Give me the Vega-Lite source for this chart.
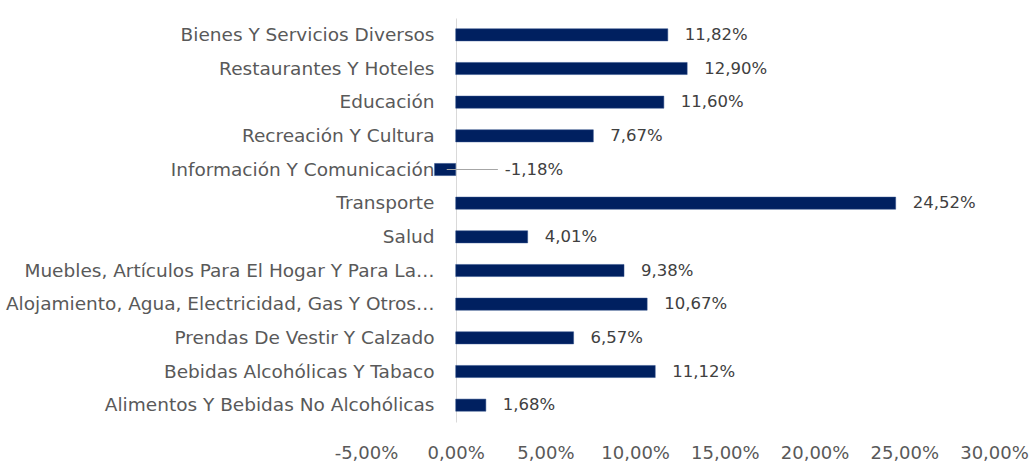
{
  "$schema": "https://vega.github.io/schema/vega-lite/v6.json",
  "width": 628,
  "height": 404,
  "autosize": "none",
  "padding": {"left": 366, "top": 18, "right": 38, "bottom": 51},
  "background": "white",
  "config": {
    "locale": {"number": {"decimal": ",", "thousands": ".", "grouping": [3], "currency": ["", "€"], "minus": "-"}},
    "view": {"stroke": null},
    "font": "DejaVu Sans"
  },
  "data": {"values": [
    {"cat": "Bienes Y Servicios Diversos", "v": 0.1182},
    {"cat": "Restaurantes Y Hoteles", "v": 0.1290},
    {"cat": "Educación", "v": 0.1160},
    {"cat": "Recreación Y Cultura", "v": 0.0767},
    {"cat": "Información Y Comunicación", "v": -0.0118},
    {"cat": "Transporte", "v": 0.2452},
    {"cat": "Salud", "v": 0.0401},
    {"cat": "Muebles, Artículos Para El Hogar Y Para La…", "v": 0.0938},
    {"cat": "Alojamiento, Agua, Electricidad, Gas Y Otros…", "v": 0.1067},
    {"cat": "Prendas De Vestir Y Calzado", "v": 0.0657},
    {"cat": "Bebidas Alcohólicas Y Tabaco", "v": 0.1112},
    {"cat": "Alimentos Y Bebidas No Alcohólicas", "v": 0.0168}
  ]},
  "encoding": {
    "y": {
      "field": "cat", "type": "nominal", "sort": null, "title": null,
      "scale": {"paddingInner": 0.64, "paddingOuter": 0.32},
      "axis": {"offset": -90, "domainColor": "#d9d9d9", "domainWidth": 1, "ticks": false,
               "labelPadding": 22, "labelFontSize": 18.5, "labelColor": "#595959", "labelLimit": 0, "labelFont": "DejaVu Sans"}
    }
  },
  "layer": [
    {
      "mark": {"type": "bar", "color": "#002060", "stroke": "#2f4f8a", "strokeWidth": 0.5},
      "encoding": {
        "x": {
          "field": "v", "type": "quantitative", "title": null,
          "scale": {"domain": [-0.05, 0.30], "nice": false, "zero": false},
          "axis": {"values": [-0.05, 0, 0.05, 0.10, 0.15, 0.20, 0.25, 0.30], "format": ".2%",
                   "domain": false, "ticks": false, "grid": false, "labelPadding": 22, "labelOverlap": false,
                   "labelFlush": false, "labelFontSize": 18, "labelColor": "#595959", "labelFont": "DejaVu Sans"}
        }
      }
    },
    {
      "transform": [{"filter": "datum.v >= 0"}],
      "mark": {"type": "text", "align": "left", "baseline": "middle", "dx": 17, "fontSize": 16.5, "color": "#404040"},
      "encoding": {
        "x": {"field": "v", "type": "quantitative"},
        "text": {"field": "v", "type": "quantitative", "format": ".2%"}
      }
    },
    {
      "transform": [{"filter": "datum.v < 0"}],
      "mark": {"type": "rule", "color": "#a6a6a6", "strokeWidth": 1},
      "encoding": {
        "x": {"datum": -0.005},
        "x2": {"datum": 0.0235}
      }
    },
    {
      "transform": [{"filter": "datum.v < 0"}],
      "mark": {"type": "text", "align": "left", "baseline": "middle", "dx": 49, "fontSize": 16.5, "color": "#404040"},
      "encoding": {
        "x": {"datum": 0},
        "text": {"field": "v", "type": "quantitative", "format": ".2%"}
      }
    }
  ]
}
